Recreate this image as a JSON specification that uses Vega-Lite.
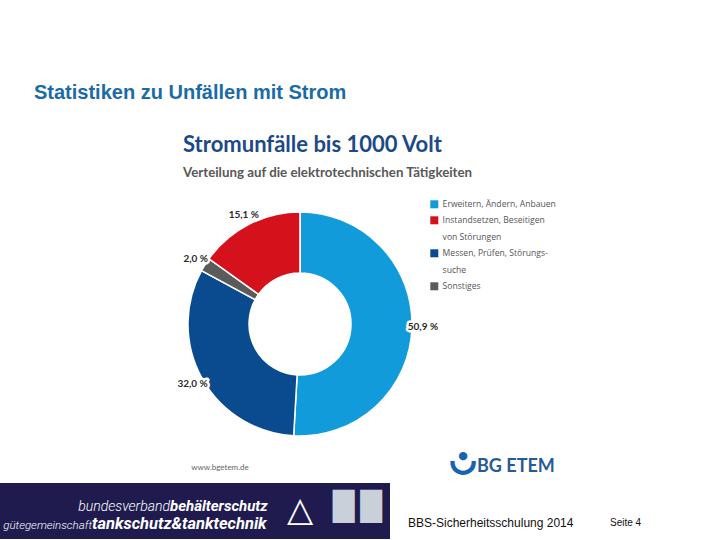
{
  "$schema": "https://vega.github.io/schema/vega-lite/v6.json",
  "background": "white",
  "padding": {"left": 0, "top": 82, "right": 0, "bottom": 0},
  "config": {
    "view": {"stroke": null},
    "style": {"guide-label": {"lineHeight": 16.5}},
    "locale": {"number": {"decimal": ",", "thousands": ".", "grouping": [3], "currency": ["", " €"], "percent": " %"}}
  },
  "title": {
    "text": "Statistiken zu Unfällen mit Strom",
    "anchor": "start",
    "frame": "group",
    "dx": 34,
    "font": "Liberation Sans",
    "fontSize": 20,
    "fontWeight": "bold",
    "color": "#1a6ba6",
    "offset": 31
  },
  "spacing": 6,
  "vconcat": [
    {
      "width": 600,
      "height": 306,
      "title": {
        "text": "Stromunfälle bis 1000 Volt",
        "subtitle": "Verteilung auf die elektrotechnischen Tätigkeiten",
        "anchor": "start",
        "frame": "group",
        "dx": 183,
        "font": "Lato",
        "fontSize": 22,
        "fontWeight": "bold",
        "color": "#1c4a87",
        "subtitleFont": "Lato",
        "subtitleFontSize": 13.3,
        "subtitleFontWeight": "bold",
        "subtitleColor": "#575757",
        "subtitlePadding": 9,
        "offset": -9
      },
      "layer": [
        {
          "data": {"values": [
            {"category": "Erweitern, Ändern, Anbauen", "share": 0.509, "seq": 1},
            {"category": "Messen, Prüfen, Störungssuche", "share": 0.320, "seq": 2},
            {"category": "Sonstiges", "share": 0.020, "seq": 3},
            {"category": "Instandsetzen, Beseitigen von Störungen", "share": 0.151, "seq": 4}
          ]},
          "encoding": {
            "theta": {"field": "share", "type": "quantitative", "stack": true},
            "order": {"field": "seq", "type": "quantitative", "sort": "ascending"}
          },
          "layer": [
            {
              "mark": {"type": "arc", "outerRadius": 112, "innerRadius": 51, "stroke": "white", "strokeWidth": 1.5},
              "encoding": {
                "color": {
                  "field": "category",
                  "type": "nominal",
                  "scale": {
                    "domain": ["Erweitern, Ändern, Anbauen", "Instandsetzen, Beseitigen von Störungen", "Messen, Prüfen, Störungssuche", "Sonstiges"],
                    "range": ["#129bdb", "#d5121b", "#0a4a8f", "#5b5b5b"]
                  },
                  "legend": {
                    "orient": "none",
                    "legendX": 430,
                    "legendY": 29,
                    "title": null,
                    "symbolType": "square",
                    "symbolSize": 64,
                    "symbolStrokeWidth": 0,
                    "labelFont": "Open Sans",
                    "labelFontSize": 8.6,
                    "labelColor": "#555555",
                    "rowPadding": 7,
                    "labelOffset": 4,
                    "labelLimit": 220,
                    "labelExpr": "datum.label == 'Instandsetzen, Beseitigen von Störungen' ? ['Instandsetzen, Beseitigen', 'von Störungen'] : datum.label == 'Messen, Prüfen, Störungssuche' ? ['Messen, Prüfen, Störungs-', 'suche'] : datum.label"
                  }
                }
              }
            },
            {
              "mark": {"type": "text", "radius": 123, "font": "Lato", "fontSize": 10, "fontWeight": "bold", "stroke": "white", "strokeWidth": 5, "strokeJoin": "round", "fill": "white"},
              "encoding": {"text": {"field": "share", "type": "quantitative", "format": ".1%"}}
            },
            {
              "mark": {"type": "text", "radius": 123, "font": "Lato", "fontSize": 10, "fontWeight": "bold", "fill": "#2b2b2b"},
              "encoding": {"text": {"field": "share", "type": "quantitative", "format": ".1%"}}
            }
          ]
        },
        {
          "data": {"values": [{"site": "www.bgetem.de"}]},
          "mark": {"type": "text", "align": "center", "baseline": "middle", "dx": -80, "dy": 144, "font": "Lato", "fontSize": 8, "fill": "#666666"},
          "encoding": {"text": {"field": "site"}}
        },
        {
          "data": {"values": [{"brand": "BG ETEM"}]},
          "mark": {"type": "text", "align": "left", "baseline": "alphabetic", "dx": 177, "dy": 148, "font": "Lato", "fontSize": 18, "fontWeight": "bold", "fill": "#285a96"},
          "encoding": {"text": {"field": "brand"}}
        },
        {
          "data": {"values": [{"icon": "●"}]},
          "mark": {"type": "text", "align": "center", "baseline": "middle", "dx": 163, "dy": 132, "font": "DejaVu Sans", "fontSize": 11, "fill": "#1565b0"},
          "encoding": {"text": {"field": "icon"}}
        },
        {
          "data": {"values": [{"icon": "◡"}]},
          "mark": {"type": "text", "align": "center", "baseline": "middle", "dx": 163, "dy": 137, "font": "DejaVu Sans", "fontSize": 30, "fontWeight": "bold", "fill": "#1565b0", "stroke": "#1565b0", "strokeWidth": 2.5},
          "encoding": {"text": {"field": "icon"}}
        }
      ]
    },
    {
      "spacing": 0,
      "hconcat": [
        {
          "width": 390,
          "height": 56,
          "view": {"fill": "#201b4f", "stroke": null},
          "layer": [
            {
              "data": {"values": [{"t": "bundesverband"}]},
              "mark": {"type": "text", "align": "right", "baseline": "alphabetic", "dx": -25, "dy": 0, "font": "Roboto", "fontSize": 14, "fontWeight": 300, "fontStyle": "italic", "fill": "white"},
              "encoding": {"text": {"field": "t"}}
            },
            {
              "data": {"values": [{"t": "behälterschutz"}]},
              "mark": {"type": "text", "align": "left", "baseline": "alphabetic", "dx": -25, "dy": 0, "font": "Roboto", "fontSize": 15, "fontWeight": "bold", "fontStyle": "italic", "fill": "white"},
              "encoding": {"text": {"field": "t"}}
            },
            {
              "data": {"values": [{"t": "gütegemeinschaft"}]},
              "mark": {"type": "text", "align": "right", "baseline": "alphabetic", "dx": -103, "dy": 18, "font": "Roboto", "fontSize": 11.5, "fontWeight": 300, "fontStyle": "italic", "fill": "white"},
              "encoding": {"text": {"field": "t"}}
            },
            {
              "data": {"values": [{"t": "tankschutz&tanktechnik"}]},
              "mark": {"type": "text", "align": "left", "baseline": "alphabetic", "dx": -103, "dy": 18, "font": "Roboto", "fontSize": 16.5, "fontWeight": "bold", "fontStyle": "italic", "fill": "white"},
              "encoding": {"text": {"field": "t"}}
            },
            {
              "data": {"values": [{"t": "△"}]},
              "mark": {"type": "text", "align": "center", "baseline": "middle", "dx": 105, "dy": 0, "font": "DejaVu Sans", "fontSize": 34, "fill": "white"},
              "encoding": {"text": {"field": "t"}}
            },
            {
              "data": {"values": [{"t": "█"}]},
              "layer": [
                {"mark": {"type": "text", "align": "center", "baseline": "middle", "dx": 148.5, "dy": -3, "font": "DejaVu Sans", "fontSize": 28, "fill": "#c9d0da"}, "encoding": {"text": {"field": "t"}}},
                {"mark": {"type": "text", "align": "center", "baseline": "middle", "dx": 176, "dy": -3, "font": "DejaVu Sans", "fontSize": 28, "fill": "#c9d0da"}, "encoding": {"text": {"field": "t"}}}
              ]
            }
          ]
        },
        {
          "width": 330,
          "height": 56,
          "layer": [
            {
              "data": {"values": [{"t": "BBS-Sicherheitsschulung 2014"}]},
              "mark": {"type": "text", "align": "left", "baseline": "alphabetic", "dx": -147, "dy": 16, "font": "Liberation Sans", "fontSize": 12, "fill": "#111111"},
              "encoding": {"text": {"field": "t"}}
            },
            {
              "data": {"values": [{"t": "Seite 4"}]},
              "mark": {"type": "text", "align": "left", "baseline": "alphabetic", "dx": 55, "dy": 15, "font": "Liberation Sans", "fontSize": 10, "fill": "#111111"},
              "encoding": {"text": {"field": "t"}}
            }
          ]
        }
      ]
    }
  ]
}
